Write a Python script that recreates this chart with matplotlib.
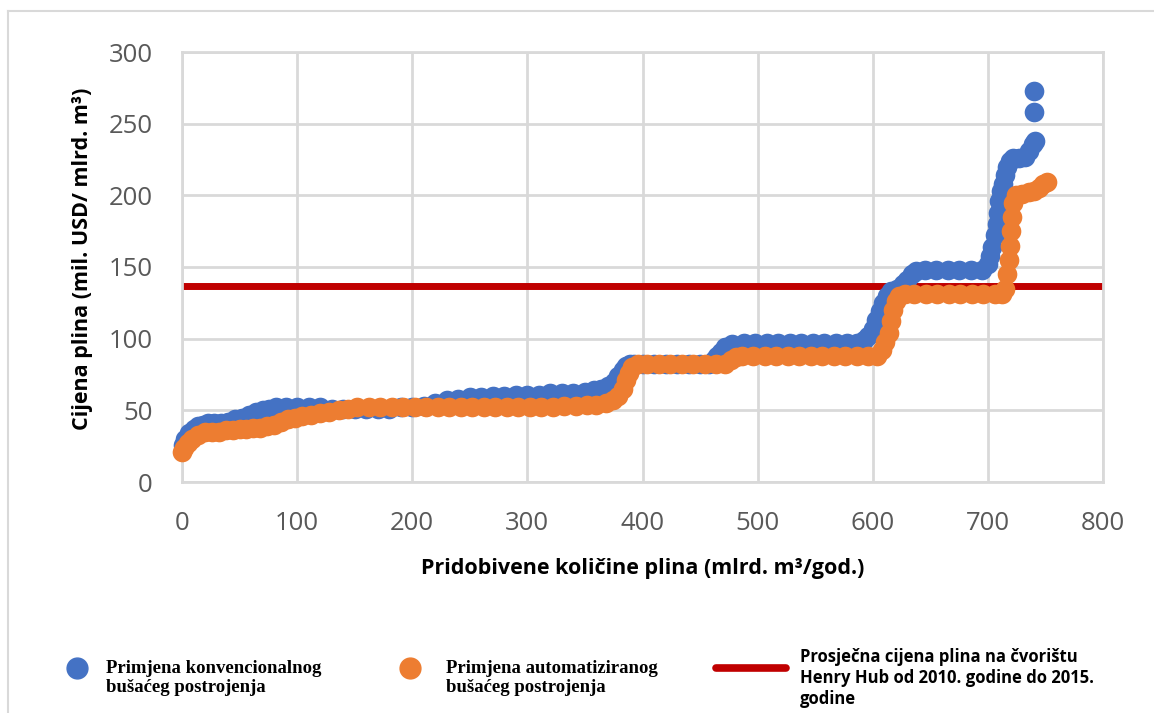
import matplotlib
matplotlib.use("Agg")
import matplotlib.pyplot as plt
from matplotlib.lines import Line2D

# ---------------- data ----------------
conv_x = [1, 3, 6, 10, 14, 18, 23, 28, 34, 40, 46, 52, 58, 64, 70, 76, 82, 90, 100, 110,
          120, 130, 140, 150, 160, 170, 180, 190, 200, 210, 220, 230, 240, 250, 260, 270, 280, 290, 300, 310,
          320, 330, 340, 350, 358, 364, 370, 375, 379, 383, 386, 389, 393, 400, 410, 420, 430, 440, 450, 458,
          462, 465, 468, 472, 478, 488, 498, 508, 518, 528, 538, 548, 558, 568, 578, 586, 592, 596, 600, 603,
          606, 609, 612, 616, 621, 626, 630, 634, 638, 645, 655, 665, 675, 685, 695, 700, 702, 704, 706, 708,
          709, 710, 711, 713, 715, 717, 719, 722, 727, 732, 736, 739, 741, 740, 740]
conv_y = [26, 30, 34, 37, 39, 40, 41, 41, 41, 42, 44, 45, 47, 49, 50, 51, 52, 52, 52, 52,
          52, 51, 51, 51, 51, 51, 51, 52, 52, 53, 55, 57, 58, 59, 59, 60, 60, 61, 61, 61,
          62, 62, 62, 63, 64, 65, 67, 70, 74, 78, 81, 82, 82, 82, 82, 82, 82, 82, 82, 82,
          85, 88, 91, 94, 96, 97, 97, 97, 97, 97, 97, 97, 97, 97, 97, 97, 99, 102, 107, 113,
          119, 125, 130, 133, 135, 138, 141, 145, 147, 148, 148, 148, 148, 148, 148, 152, 158, 164, 172, 180,
          188, 196, 203, 208, 214, 220, 224, 226, 226, 227, 231, 236, 238, 258, 273]

auto_x = [0, 2, 5, 9, 14, 20, 26, 32, 38, 44, 50, 56, 62, 68, 74, 80, 86, 92, 98, 104,
          112, 120, 128, 136, 144, 152, 162, 172, 182, 192, 202, 212, 222, 232, 242, 252, 262, 272, 282, 292,
          302, 312, 322, 332, 342, 352, 360, 368, 374, 379, 383, 386, 388, 391, 396, 404, 414, 424, 434, 444,
          454, 464, 472, 477, 481, 486, 496, 506, 516, 526, 536, 546, 556, 566, 576, 586, 596, 604, 608, 611,
          614, 616, 618, 620, 623, 628, 636, 646, 656, 666, 676, 686, 696, 706, 712, 715, 717, 718, 719, 720,
          721, 722, 724, 730, 736, 740, 744, 748, 751]
auto_y = [21, 24, 27, 30, 33, 35, 35, 35, 36, 36, 37, 37, 38, 38, 39, 40, 42, 44, 45, 46,
          47, 48, 49, 50, 51, 52, 52, 52, 52, 52, 52, 52, 52, 52, 52, 52, 52, 52, 52, 52,
          52, 52, 52, 53, 53, 54, 54, 55, 57, 60, 65, 71, 76, 80, 82, 82, 82, 82, 82, 82,
          82, 82, 82, 85, 87, 88, 88, 88, 88, 88, 88, 88, 88, 88, 88, 88, 88, 88, 92, 98,
          104, 112, 120, 126, 130, 131, 131, 131, 131, 131, 131, 131, 131, 131, 131, 135, 145, 155, 165, 175,
          185, 195, 200, 201, 202, 203, 205, 208, 209]

henry_hub_avg = 137

x_ticks = [0, 100, 200, 300, 400, 500, 600, 700, 800]
y_ticks = [0, 50, 100, 150, 200, 250, 300]

label_conv = "Primjena konvencionalnog\nbušaćeg postrojenja"
label_auto = "Primjena automatiziranog\nbušaćeg postrojenja"
label_hh = "Prosječna cijena plina na čvorištu\nHenry Hub od 2010. godine do 2015.\ngodine"
x_label = "Pridobivene količine plina (mlrd. m³/god.)"
y_label = "Cijena plina (mil. USD/ mlrd. m³)"

BLUE = "#4472C4"
ORANGE = "#ED7D31"
RED = "#C00000"
GRID = "#D9D9D9"
TICK = "#595959"

W, H = 1154, 713
fig = plt.figure(figsize=(W / 100, H / 100), dpi=100)


def fx(px):
    return px / W


def fy(py):
    return 1 - py / H


# outer chart border (cut at right/bottom)
fig.add_artist(Line2D([fx(8), fx(8)], [fy(11), fy(713)], color=GRID, lw=1.5, transform=fig.transFigure))
fig.add_artist(Line2D([fx(8), fx(1154)], [fy(11), fy(11)], color=GRID, lw=1.5, transform=fig.transFigure))

ax = fig.add_axes([fx(182), fy(482), fx(1103) - fx(182), fy(52) - fy(482)])
ax.set_xlim(0, 800)
ax.set_ylim(0, 300)
ax.set_xticks(x_ticks)
ax.set_yticks(y_ticks)
ax.grid(True, color=GRID, lw=2.0, zorder=0)
ax.set_axisbelow(True)
for s in ax.spines.values():
    s.set_color(GRID)
    s.set_linewidth(2.0)
ax.tick_params(length=0, labelsize=18.5, labelcolor=TICK, pad=21)
for lab in ax.get_xticklabels() + ax.get_yticklabels():
    lab.set_fontfamily("Open Sans")

ax.axhline(henry_hub_avg, color=RED, lw=5, zorder=2)
ax.scatter(conv_x, conv_y, s=200, color=BLUE, linewidths=0, zorder=3, clip_on=False)
ax.scatter(auto_x, auto_y, s=200, color=ORANGE, linewidths=0, zorder=4, clip_on=False)

ax.set_xlabel(x_label, fontfamily="Open Sans", fontweight="bold", fontsize=15.5, labelpad=16)
ax.set_ylabel(y_label, fontfamily="Open Sans", fontweight="bold", fontsize=15.5)
ax.yaxis.set_label_coords(-(182 - 93) / 921, (482 - 259) / 430)

# legend
fig.add_artist(Line2D([fx(77)], [fy(668)], marker="o", ms=15, color=BLUE, lw=0, transform=fig.transFigure))
fig.add_artist(Line2D([fx(410)], [fy(668)], marker="o", ms=15, color=ORANGE, lw=0, transform=fig.transFigure))
fig.add_artist(Line2D([fx(716), fx(786)], [fy(668), fy(668)], color=RED, lw=5.5,
                      solid_capstyle="round", transform=fig.transFigure))
fig.text(fx(106), fy(678), label_conv, fontfamily="Liberation Serif", fontweight="bold",
         fontsize=13.5, va="center", ha="left", linespacing=1.2)
fig.text(fx(446), fy(678), label_auto, fontfamily="Liberation Serif", fontweight="bold",
         fontsize=13.5, va="center", ha="left", linespacing=1.2)
fig.text(fx(800), fy(648), label_hh, fontfamily="Open Sans", fontweight="bold",
         fontsize=12, va="top", ha="left", linespacing=1.22)

fig.savefig("out.png", dpi=100)
